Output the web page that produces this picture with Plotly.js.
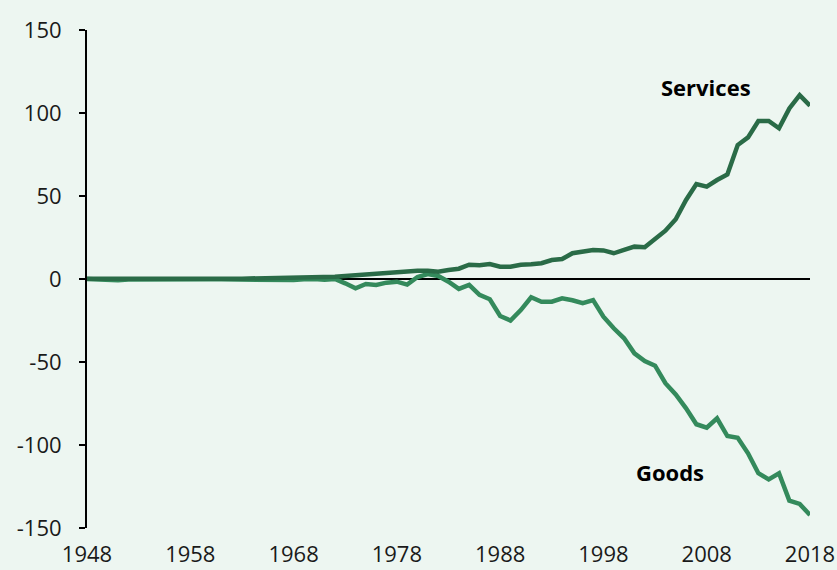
<!DOCTYPE html>
<html>
<head>
<meta charset="utf-8">
<script src="https://cdn.plot.ly/plotly-3.0.1.min.js"></script>
<style>html,body{margin:0;padding:0;background:#EDF6F1;}#chart{width:837px;height:570px;}</style>
</head>
<body>
<div id="chart"></div>
<script>
const years = [];
for (let y = 1948; y <= 2018; y++) years.push(y);

const services = [
  0.2, 0.1, 0.0, 0.1, 0.2, 0.1, 0.1, 0.1, 0.2, 0.3, 0.2, 0.1,
  0.1, 0.2, 0.2, 0.2, 0.3, 0.3, 0.2, 0.3, 0.4, 0.5,
  0.8, 1.1, 1.4, 1.8, 2.3, 2.9, 3.6, 4.1, 4.5, 4.8,
  5.0, 5.0, 4.4, 5.4, 6.2, 8.6, 8.3, 9.0, 7.4, 7.4,
  8.6, 8.9, 9.5, 11.4, 12.0, 15.5, 16.4, 17.5, 17.2, 15.5,
  17.5, 19.5, 19.1, 24.5, 29.1, 36.0, 47.6, 57.2, 55.6, 59.6,
  63.0, 80.7, 85.3, 95.2, 95.2, 90.8, 102.8, 110.8, 104.4
];

const goods = [
  0.0, -0.2, -0.5, -0.8, -0.3, -0.2, -0.1, -0.2, -0.3, -0.2, -0.1, 0.0,
  -0.1, -0.2, -0.3, -0.1, -0.5, -0.4, -0.1, -0.7, -0.6, -0.2,
  0.0, -0.5, 0.0, -2.6, -5.6, -3.0, -3.6, -2.2, -1.6, -3.4,
  1.2, 3.0, 1.8, -1.6, -6.0, -3.6, -9.6, -12.2, -22.3, -25.0,
  -18.7, -11.0, -13.7, -13.7, -11.6, -12.8, -14.6, -12.7, -22.7, -29.7,
  -35.7, -44.8, -49.4, -52.2, -62.8, -69.5, -77.9, -87.5, -89.6, -83.9,
  -94.6, -95.6, -105.0, -117.0, -120.7, -117.0, -133.5, -135.5, -142.2
];

const xTicks = [1948, 1958, 1968, 1978, 1988, 1998, 2008, 2018];
const yTicks = [-150, -100, -50, 0, 50, 100, 150];
const labels = [
  {text: 'Services', x: 2007.9, y: 115.5},
  {text: 'Goods', x: 2004.4, y: -116.5}
];

const traces = [
  {x: years, y: goods, type: 'scatter', mode: 'lines', name: 'Goods',
   line: {color: '#348A5C', width: 4.5}},
  {x: years, y: services, type: 'scatter', mode: 'lines', name: 'Services',
   line: {color: '#2A6B47', width: 4.5}}
];

const layout = {
  width: 837, height: 570,
  paper_bgcolor: '#EDF6F1', plot_bgcolor: '#EDF6F1',
  margin: {l: 87, r: 27, t: 30, b: 42},
  showlegend: false,
  font: {family: 'Open Sans, Noto Sans, sans-serif', size: 22, color: '#1a1a1a'},
  xaxis: {
    range: [1948, 2018], tickvals: xTicks, ticktext: xTicks.map(String),
    showgrid: false, zeroline: false, showline: false, ticks: '',
    ticklabelstandoff: 11,
    tickfont: {size: 22, color: '#1a1a1a'}, fixedrange: true
  },
  yaxis: {
    range: [-150, 150], tickvals: yTicks, ticktext: yTicks.map(String),
    showgrid: false, zeroline: true, zerolinecolor: '#000', zerolinewidth: 2,
    showline: true, linecolor: '#000', linewidth: 2,
    ticks: 'outside', ticklen: 6, tickwidth: 2, tickcolor: '#000',
    ticklabelstandoff: 13,
    tickfont: {size: 22, color: '#1a1a1a'}, fixedrange: true
  },
  annotations: labels.map(l => ({
    text: '<b>' + l.text + '</b>', x: l.x, y: l.y, xref: 'x', yref: 'y',
    showarrow: false, font: {size: 22, color: '#000'}
  }))
};

Plotly.newPlot('chart', traces, layout, {displayModeBar: false, staticPlot: true});
</script>
</body>
</html>
